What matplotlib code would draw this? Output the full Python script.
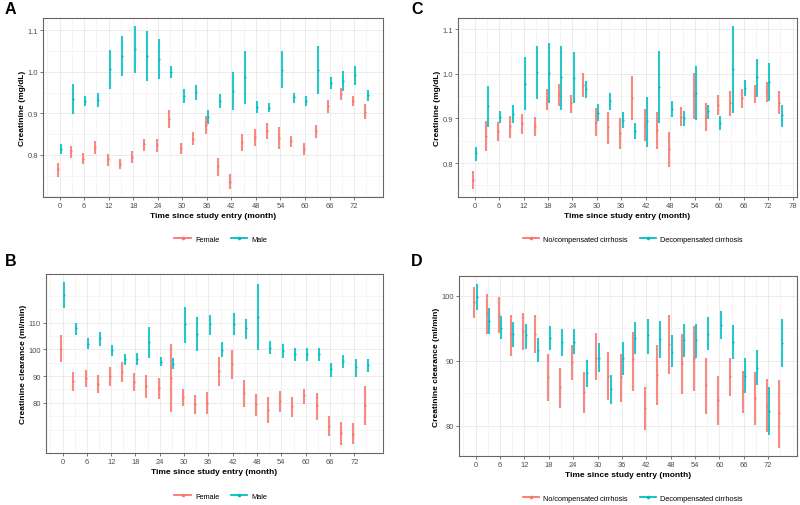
import matplotlib
matplotlib.use('Agg')
import matplotlib.pyplot as plt
from matplotlib.lines import Line2D
import numpy as np

plt.rcParams['font.family'] = ['Liberation Sans', 'DejaVu Sans']

months = list(range(0, 76, 3))

# ---------------- Panel A: Creatinine by sex ----------------
a_female_mean = [0.766, 0.809, 0.791, 0.818, 0.789, 0.778, 0.795, 0.825, 0.823, 0.887, 0.816, 0.839, 0.871,
                 0.773, 0.735, 0.831, 0.843, 0.857, 0.841, 0.833, 0.815, 0.858, 0.917, 0.947, 0.930, 0.902]
a_female_lo = [0.747, 0.793, 0.778, 0.801, 0.773, 0.765, 0.781, 0.809, 0.806, 0.864, 0.803, 0.824, 0.851,
               0.750, 0.718, 0.809, 0.822, 0.837, 0.814, 0.819, 0.799, 0.841, 0.901, 0.931, 0.917, 0.886]
a_female_hi = [0.781, 0.822, 0.804, 0.834, 0.802, 0.791, 0.810, 0.838, 0.838, 0.909, 0.829, 0.855, 0.893,
               0.793, 0.754, 0.851, 0.863, 0.877, 0.866, 0.846, 0.829, 0.871, 0.933, 0.962, 0.942, 0.923]
a_male_mean = [0.814, 0.935, 0.930, 0.931, 1.006, 1.038, 1.054, 1.038, 1.032, 1.000, 0.942, 0.951, 0.891,
               0.930, 0.954, 0.987, 0.915, 0.914, 1.005, 0.939, 0.930, 1.005, 0.974, 0.978, 0.993, 0.944]
a_male_lo = [0.802, 0.899, 0.917, 0.915, 0.958, 0.989, 0.997, 0.978, 0.983, 0.984, 0.925, 0.933, 0.875,
             0.912, 0.907, 0.922, 0.901, 0.902, 0.960, 0.926, 0.918, 0.946, 0.958, 0.953, 0.968, 0.930]
a_male_hi = [0.825, 0.971, 0.942, 0.949, 1.053, 1.087, 1.110, 1.098, 1.078, 1.014, 0.958, 0.969, 0.907,
             0.947, 0.999, 1.051, 0.929, 0.926, 1.050, 0.950, 0.942, 1.063, 0.988, 1.001, 1.014, 0.955]

# ---------------- Panel B: Creatinine clearance by sex ----------------
b_female_mean = [100.1, 88.0, 89.3, 87.2, 89.9, 91.7, 87.8, 86.3, 85.7, 89.4, 82.0, 79.5, 80.1,
                 91.9, 94.6, 83.5, 79.4, 77.5, 80.7, 78.8, 82.8, 79.1, 71.4, 68.9, 68.4, 79.1]
b_female_lo = [95.2, 84.3, 85.9, 83.7, 86.2, 87.8, 84.3, 81.9, 81.6, 76.4, 78.8, 75.9, 76.0,
               86.3, 89.0, 78.4, 75.1, 72.5, 76.7, 74.7, 79.5, 73.5, 67.5, 64.3, 64.6, 71.9]
b_female_hi = [105.2, 91.5, 92.3, 90.5, 93.5, 95.2, 91.1, 90.5, 89.3, 102.0, 85.3, 83.1, 84.1,
               97.2, 99.8, 88.4, 83.3, 82.2, 84.3, 82.2, 85.3, 83.7, 75.1, 72.8, 72.5, 86.2]
b_male_mean = [120.2, 107.9, 102.1, 104.1, 99.8, 96.2, 96.2, 102.8, 95.2, 94.6, 109.4, 105.9, 109.4,
               99.9, 109.6, 107.8, 112.2, 100.5, 99.5, 98.1, 98.1, 98.3, 92.7, 95.6, 93.3, 94.2]
b_male_lo = [115.4, 105.4, 100.1, 101.1, 97.4, 94.0, 94.0, 96.7, 93.7, 92.5, 102.3, 99.5, 105.3,
             97.2, 105.3, 103.8, 99.9, 98.1, 96.9, 95.6, 95.6, 95.6, 89.5, 93.2, 89.6, 91.7]
b_male_hi = [125.1, 110.0, 104.4, 106.5, 101.7, 98.3, 98.5, 108.5, 97.0, 96.9, 115.9, 111.9, 112.8,
             102.6, 113.5, 111.5, 124.3, 103.0, 102.0, 100.5, 100.5, 100.6, 94.9, 97.9, 96.4, 96.4]

# ---------------- Panel C: Creatinine by cirrhosis ----------------
c_comp_mean = [0.762, 0.861, 0.872, 0.883, 0.890, 0.884, 0.945, 0.954, 0.934, 0.975, 0.893, 0.880, 0.868,
               0.946, 0.885, 0.874, 0.831, 0.904, 0.952, 0.904, 0.930, 0.935, 0.945, 0.956, 0.959, 0.935]
c_comp_lo = [0.742, 0.827, 0.850, 0.855, 0.866, 0.861, 0.919, 0.928, 0.913, 0.948, 0.861, 0.843, 0.831,
             0.896, 0.849, 0.832, 0.790, 0.883, 0.898, 0.872, 0.908, 0.905, 0.924, 0.935, 0.937, 0.910]
c_comp_hi = [0.781, 0.895, 0.893, 0.906, 0.910, 0.904, 0.967, 0.977, 0.952, 1.002, 0.924, 0.915, 0.900,
             0.995, 0.922, 0.915, 0.870, 0.925, 1.002, 0.935, 0.952, 0.962, 0.965, 0.976, 0.981, 0.962]
c_decomp_mean = [0.822, 0.928, 0.903, 0.910, 0.978, 1.004, 1.002, 0.992, 0.991, 0.966, 0.913, 0.939, 0.896,
                 0.872, 0.894, 0.971, 0.922, 0.901, 0.957, 0.916, 0.890, 1.010, 0.969, 0.992, 0.982, 0.907]
c_decomp_lo = [0.805, 0.881, 0.889, 0.889, 0.919, 0.943, 0.934, 0.919, 0.934, 0.945, 0.894, 0.919, 0.878,
               0.853, 0.837, 0.890, 0.904, 0.883, 0.896, 0.899, 0.875, 0.913, 0.951, 0.948, 0.939, 0.881]
c_decomp_hi = [0.837, 0.972, 0.916, 0.930, 1.037, 1.063, 1.069, 1.063, 1.048, 0.984, 0.933, 0.957, 0.915,
               0.890, 0.947, 1.051, 0.938, 0.917, 1.018, 0.929, 0.905, 1.107, 0.986, 1.034, 1.025, 0.931]

# ---------------- Panel D: Creatinine clearance by cirrhosis ----------------
d_comp_mean = [99.1, 97.3, 97.1, 94.1, 94.6, 94.1, 87.5, 85.9, 89.8, 85.2, 90.4, 87.7, 87.5,
               90.3, 82.7, 87.8, 92.6, 89.6, 90.4, 86.2, 84.0, 87.6, 85.3, 84.3, 83.1, 81.9]
d_comp_lo = [96.6, 94.1, 94.3, 90.8, 91.7, 91.2, 83.8, 82.7, 87.1, 81.9, 87.0, 84.0, 83.6,
             85.4, 79.3, 83.2, 88.0, 84.9, 85.3, 81.8, 80.1, 84.6, 82.0, 80.1, 79.0, 76.6]
d_comp_hi = [101.3, 100.3, 99.8, 97.0, 97.4, 97.1, 91.0, 88.9, 92.5, 88.3, 94.3, 91.4, 91.1,
             94.5, 86.0, 92.5, 97.1, 94.1, 95.4, 90.5, 87.7, 90.5, 88.5, 88.2, 87.2, 87.1]
d_decomp_mean = [99.8, 96.2, 95.1, 94.1, 93.9, 91.7, 93.5, 92.9, 92.9, 88.1, 90.5, 85.6, 90.4,
                 93.5, 93.9, 93.4, 91.4, 93.2, 93.2, 94.2, 95.5, 92.9, 87.7, 88.9, 82.2, 92.8]
d_decomp_lo = [97.9, 94.1, 93.4, 92.2, 91.8, 89.8, 91.6, 90.7, 91.0, 86.0, 88.2, 83.3, 87.8,
               91.0, 91.0, 90.4, 89.0, 90.6, 90.5, 91.7, 93.3, 90.3, 85.0, 86.2, 78.5, 89.1]
d_decomp_hi = [101.8, 98.2, 96.9, 96.0, 95.7, 93.5, 95.4, 94.9, 94.9, 90.2, 92.7, 87.8, 92.9,
               96.0, 96.5, 96.1, 93.9, 95.7, 95.7, 96.7, 97.6, 95.5, 90.4, 91.7, 85.9, 96.4]

sex_labels = ['Female', 'Male']
cirrhosis_labels = ['No/compensated cirrhosis', 'Decompensated cirrhosis']

RED = '#F8766D'
TEAL = '#00BFC4'
W, H = 800, 506
DODGE = 0.3

fig = plt.figure(figsize=(W / 100, H / 100), dpi=100)


def rect(l, t, r, b):
    return [l / W, 1 - b / H, (r - l) / W, (b - t) / H]


def panel(box, series, yticks, yticklabels, ylabel, xticks, letter, letter_xy,
          legend_labels, legend_xy):
    ax = fig.add_axes(rect(*box))
    x = np.array(months, dtype=float)
    allv = []
    for k, (mean, lo, hi) in enumerate(series):
        col = RED if k == 0 else TEAL
        xs = x + (-DODGE if k == 0 else DODGE)
        ax.vlines(xs, lo, hi, colors=col, lw=1.5, alpha=0.85, zorder=3)
        ax.plot(xs, mean, 'o', color=col, ms=1.6, mew=0, alpha=0.9, zorder=4)
        allv += list(lo) + list(hi)
    # ggplot-like expansion
    xmin, xmax = x.min() - DODGE, x.max() + DODGE
    dx = 0.05 * (xmax - xmin)
    ax.set_xlim(xmin - dx, xmax + dx)
    ymin, ymax = min(allv), max(allv)
    dy = 0.05 * (ymax - ymin)
    ax.set_ylim(ymin - dy, ymax + dy)
    lo_, hi_ = ax.get_ylim()

    ax.set_xticks(xticks)
    ax.set_xticklabels([str(t) for t in xticks])
    step = xticks[1] - xticks[0]
    xm = np.arange(xticks[0] - step, xticks[-1] + step + 0.01, step / 2)
    xm = [v for v in xm if ax.get_xlim()[0] <= v <= ax.get_xlim()[1] and v not in xticks]
    ax.set_xticks(xm, minor=True)

    ax.set_yticks(yticks)
    ax.set_yticklabels(yticklabels)
    ys = yticks[1] - yticks[0]
    ym = np.arange(yticks[0] - ys, yticks[-1] + ys + ys / 4, ys / 2)
    ym = [v for v in ym if lo_ <= v <= hi_ and not any(abs(v - t) < 1e-9 for t in yticks)]
    ax.set_yticks(ym, minor=True)

    ax.grid(which='major', color='#EBEBEB', lw=0.7, zorder=0)
    ax.grid(which='minor', color='#F2F2F2', lw=0.5, zorder=0)
    ax.set_axisbelow(True)
    for s in ax.spines.values():
        s.set_color('#666666')
        s.set_linewidth(0.8)
    ax.tick_params(which='major', length=2.2, width=0.5, color='#444444',
                   labelcolor='#4D4D4D', labelsize=5.4, pad=1.5)
    ax.tick_params(which='minor', length=0)
    ax.set_xlabel('Time since study entry (month)', fontsize=6, fontweight='bold', labelpad=2)
    ax.set_ylabel(ylabel, fontsize=6, fontweight='bold', labelpad=1)

    fig.text(letter_xy[0] / W, 1 - letter_xy[1] / H, letter, fontsize=11.5,
             fontweight='bold', ha='left', va='center')

    handles = [Line2D([0], [0], color=RED, lw=1.3, marker='o', ms=1.6),
               Line2D([0], [0], color=TEAL, lw=1.3, marker='o', ms=1.6)]
    fig.legend(handles, legend_labels, loc='center',
               bbox_to_anchor=(legend_xy[0] / W, 1 - legend_xy[1] / H),
               ncol=2, frameon=False, fontsize=5.3, handlelength=2.2,
               handletextpad=0.6, columnspacing=1.6)
    return ax


xt72 = list(range(0, 73, 6))
xt78 = list(range(0, 79, 6))

panel((43, 19, 383, 198),
      [(a_female_mean, a_female_lo, a_female_hi), (a_male_mean, a_male_lo, a_male_hi)],
      [0.8, 0.9, 1.0, 1.1], ['0.8', '0.9', '1.0', '1.1'], 'Creatinine (mg/dL)', xt72,
      'A', (5, 10), sex_labels, (221, 240))

panel((46, 275, 383, 454),
      [(b_female_mean, b_female_lo, b_female_hi), (b_male_mean, b_male_lo, b_male_hi)],
      [80, 90, 100, 110], ['80', '90', '100', '110'], 'Creatinine clearance (ml/min)', xt72,
      'B', (5, 262), sex_labels, (221, 497))

panel((458, 19, 797, 198),
      [(c_comp_mean, c_comp_lo, c_comp_hi), (c_decomp_mean, c_decomp_lo, c_decomp_hi)],
      [0.8, 0.9, 1.0, 1.1], ['0.8', '0.9', '1.0', '1.1'], 'Creatinine (mg/dL)', xt78,
      'C', (411, 10), cirrhosis_labels, (633, 240))

panel((459, 277, 797, 457),
      [(d_comp_mean, d_comp_lo, d_comp_hi), (d_decomp_mean, d_decomp_lo, d_decomp_hi)],
      [80, 90, 100], ['80', '90', '100'], 'Creatinine clearance (ml/min)', xt72,
      'D', (411, 262), cirrhosis_labels, (633, 499))

fig.savefig('out.png', dpi=100, facecolor='white')
